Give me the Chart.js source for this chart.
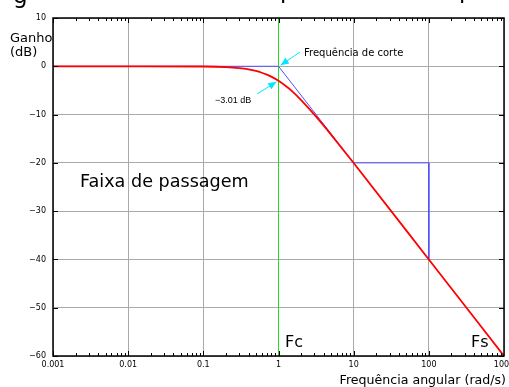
<!DOCTYPE html>
<html>
<head>
<meta charset="utf-8">
<script src="https://cdn.jsdelivr.net/npm/chart.js@4/dist/chart.umd.min.js"></script>
<style>
  html, body { margin: 0; padding: 0; background: #fff; }
  canvas { display: block; }
</style>
</head>
<body>
<canvas id="bodeChart" width="509" height="387"></canvas>
<script>
// Frequency response (rad/s, dB)
var freq = [0.001, 0.01, 0.1, 0.2, 0.3, 0.4, 0.5, 0.6, 0.7, 0.8, 1, 1.25, 1.5, 2, 3, 4, 5, 7, 10, 100, 1000];
var gain = [0, 0, -0.04, -0.17, -0.38, -0.64, -0.97, -1.34, -1.73, -2.15, -3.01, -4.1, -5.1, -7.0, -10.0, -12.3, -14.15, -17.0, -20.04, -40, -60];

// Asymptote (blue) and stop marker
var asymFreq = [0.001, 1, 10, 100, 100];
var asymGain = [0, 0, -20, -20, -40];

// Cut-off frequency line (green)
var cutFreq = [1, 1];
var cutGain = [10, -60];

var xTicks = [0.001, 0.01, 0.1, 1, 10, 100, 1000];
var xTickLabels = ["0.001", "0.01", "0.1", "1", "10", "100", "1000"];
var yTicks = [10, 0, -10, -20, -30, -40, -50, -60];

function toPoints(xs, ys) {
    var pts = [];
    for (var i = 0; i < xs.length; i++) pts.push({ x: xs[i], y: ys[i] });
    return pts;
}

function isDecade(v) {
    var l = Math.log10(v);
    return Math.abs(l - Math.round(l)) < 1e-6;
}

function arrow(ctx, x0, y0, x1, y1) {
    var a = Math.atan2(y1 - y0, x1 - x0);
    var len = 9, w = 0.4;
    ctx.beginPath();
    ctx.moveTo(x0, y0);
    ctx.lineTo(x1, y1);
    ctx.stroke();
    ctx.beginPath();
    ctx.moveTo(x1, y1);
    ctx.lineTo(x1 - len * Math.cos(a - w), y1 - len * Math.sin(a - w));
    ctx.lineTo(x1 - len * Math.cos(a + w), y1 - len * Math.sin(a + w));
    ctx.closePath();
    ctx.fill();
}

// Frame, small ticks and text annotations
var decorations = {
    id: 'decorations',
    afterDatasetsDraw: function(chart) {
        var ctx = chart.ctx;
        var area = chart.chartArea;
        var xs = chart.scales.x, ys = chart.scales.y;
        ctx.save();

        // minor ticks on x (top and bottom)
        ctx.strokeStyle = '#000';
        ctx.lineWidth = 1;
        for (var e = -3; e < 3; e++) {
            for (var s = 1; s <= 9; s++) {
                var px = Math.round(xs.getPixelForValue(s * Math.pow(10, e))) + 0.5;
                var len = s === 1 ? 5 : 3;
                ctx.beginPath();
                ctx.moveTo(px, area.bottom);
                ctx.lineTo(px, area.bottom - len);
                ctx.moveTo(px, area.top);
                ctx.lineTo(px, area.top + len);
                ctx.stroke();
            }
        }
        // y ticks (left and right)
        yTicks.forEach(function(v) {
            var py = Math.round(ys.getPixelForValue(v)) + 0.5;
            ctx.beginPath();
            ctx.moveTo(area.left, py);
            ctx.lineTo(area.left + 5, py);
            ctx.moveTo(area.right, py);
            ctx.lineTo(area.right - 5, py);
            ctx.stroke();
        });

        // frame
        ctx.strokeStyle = '#000';
        ctx.lineWidth = 1.5;
        ctx.strokeRect(area.left, area.top, area.right - area.left, area.bottom - area.top);

        // cyan arrows
        ctx.strokeStyle = '#00e8ff';
        ctx.fillStyle = '#00e8ff';
        ctx.lineWidth = 1;
        var cx = xs.getPixelForValue(1);
        arrow(ctx, 300, 52, cx + 2, ys.getPixelForValue(0) - 1);
        arrow(ctx, 257, 94, cx - 2, ys.getPixelForValue(-3.01) + 1);

        ctx.fillStyle = '#000';
        ctx.textBaseline = 'alphabetic';
        ctx.textAlign = 'left';
        ctx.font = '10px "DejaVu Sans"';
        ctx.fillText('Frequência de corte', 304, 56);
        ctx.font = '9px "Liberation Sans"';
        ctx.fillText('\u22123.01 dB', 215, 103);
        ctx.font = '17.6px "DejaVu Sans"';
        ctx.fillText('Faixa de passagem', 80, 187);
        ctx.font = '16px "DejaVu Sans"';
        ctx.fillText('Fc', 285, 347);
        ctx.fillText('Fs', 471, 347);

        // axis titles
        ctx.font = '13px "DejaVu Sans"';
        ctx.fillText('Ganho', 10, 42);
        ctx.fillText('(dB)', 10, 56);
        ctx.textAlign = 'right';
        ctx.font = '12.6px "DejaVu Sans"';
        ctx.fillText('Frequência angular (rad/s)', 506, 384);

        // cropped title remnants
        ctx.textAlign = 'left';
        ctx.font = '23px "DejaVu Sans"';
        ctx.fillText('g', 13, 3);
        ctx.fillText('p', 280, -2);
        ctx.fillText('p', 459, -2);
        ctx.restore();
    }
};

var ctxBode = document.getElementById('bodeChart');
var bodeChart = new Chart(ctxBode, {
    type: 'scatter',
    data: {
        datasets: [{
            label: 'Ganho',
            data: toPoints(freq, gain),
            showLine: true,
            borderColor: '#ff0000',
            borderWidth: 1.8,
            pointRadius: 0,
            cubicInterpolationMode: 'monotone',
            order: 1
        }, {
            label: 'Assintota',
            data: toPoints(asymFreq, asymGain),
            showLine: true,
            borderColor: '#5050ff',
            borderWidth: 1,
            pointRadius: 0,
            tension: 0,
            order: 2
        }, {
            label: 'Corte',
            data: toPoints(cutFreq, cutGain),
            showLine: true,
            borderColor: '#22dd22',
            borderWidth: 1,
            pointRadius: 0,
            order: 3
        }]
    },
    options: {
        responsive: false,
        animation: false,
        layout: { padding: { left: 0, right: 5, top: 18, bottom: 0 } },
        plugins: {
            legend: { display: false },
            tooltip: { enabled: false }
        },
        scales: {
            x: {
                type: 'logarithmic',
                min: 0.001,
                max: 1000,
                afterFit: function(scale) {
                    scale.height = 31;
                    scale.paddingLeft = 0;
                    scale.paddingRight = 0;
                },
                afterBuildTicks: function(scale) {
                    scale.ticks = xTicks.map(function(v) { return { value: v, major: true }; });
                },
                ticks: {
                    autoSkip: false,
                    maxRotation: 0,
                    padding: 4,
                    color: '#000',
                    font: { family: 'DejaVu Sans', size: 8 },
                    callback: function(v) {
                        var i = xTicks.indexOf(v);
                        return i >= 0 ? xTickLabels[i] : '';
                    }
                },
                grid: {
                    drawTicks: false,
                    color: function(c) { return (c.tick && isDecade(c.tick.value)) ? '#aaaaaa' : 'rgba(0,0,0,0)'; },
                    lineWidth: 1
                },
                border: { display: false }
            },
            y: {
                min: -60,
                max: 10,
                afterFit: function(scale) {
                    scale.width = 53;
                    scale.paddingTop = 0;
                    scale.paddingBottom = 0;
                },
                afterBuildTicks: function(scale) {
                    scale.ticks = yTicks.map(function(v) { return { value: v }; });
                },
                ticks: {
                    padding: 7,
                    color: '#000',
                    font: { family: 'DejaVu Sans', size: 8 },
                    callback: function(v) { return v < 0 ? '\u2212' + Math.abs(v) : String(v); }
                },
                grid: {
                    drawTicks: false,
                    color: '#aaaaaa',
                    lineWidth: 1
                },
                border: { display: false }
            }
        }
    },
    plugins: [decorations]
});
</script>
</body>
</html>
